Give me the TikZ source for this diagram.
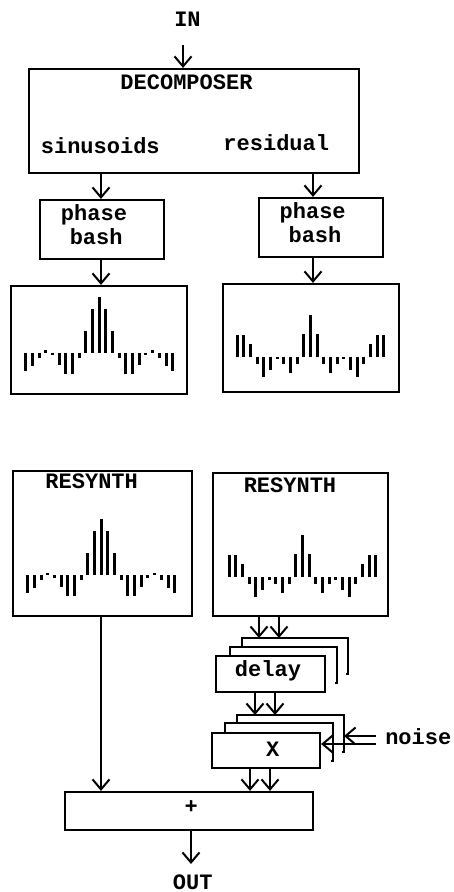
\documentclass[tikz,border=0pt]{standalone}
\usepackage{fontspec}
\setmainfont{Liberation Mono}
\usetikzlibrary{arrows.meta,calc}
\tikzset{
 box/.style={draw, line width=2.2pt, inner sep=0pt, fill=white},
 lbl/.style={inner sep=0pt, anchor=base, font=\fontsize{22}{24}\selectfont\bfseries},
 arr/.style={line width=2pt, -{Straight Barb[length=10pt,width=17pt,line width=2pt]}},
 stackline/.style={line width=2.2pt, line join=miter},
 bar/.style={line width=3pt}
}
\newcommand{\drawspec}[3]{%
 \foreach \h [count=\i from 0] in {#3} {
   \draw[bar] ({#1+\i*6.67}, #2) -- ++(0,{-(\h)});
   \ifnum\i>0 \draw[bar] ({#1-\i*6.67},#2) -- ++(0,{-(\h)}); \fi
 }
}
\begin{document}
\begin{tikzpicture}[x=1pt,y=-1pt]
\useasboundingbox (0,0) rectangle (453,892);
% boxes
\node[box, minimum width=330pt, minimum height=104pt] (dec) at (194,121) {};
\node[box, minimum width=124pt, minimum height=59pt] (pbl) at (102,229.5) {};
\node[box, minimum width=124pt, minimum height=59pt] (pbr) at (321,227.5) {};
\node[box, minimum width=176pt, minimum height=108pt] (spl) at (99,340) {};
\node[box, minimum width=176pt, minimum height=108pt] (spr) at (311,338) {};
\node[box, minimum width=179pt, minimum height=145pt] (rsl) at (102.5,543.5) {};
\node[box, minimum width=175pt, minimum height=143pt] (rsr) at (300.5,544.5) {};
% delay stack
\coordinate (dB) at (242,638);
\coordinate (dBr) at (348,674);
\coordinate (dM) at (230,647);
\coordinate (dMr) at (337,683);
\draw[stackline] (dB |- dM) -- (dB) -- (dB -| dBr) -- (dBr) -- ++(-2.5,0);
\node[box, minimum width=109pt, minimum height=36pt] (df) at (270.5,674) {};
\draw[stackline] (dM |- df.north) -- (dM) -- (dM -| dMr) -- (dMr) -- ++(-2.5,0);
% X stack
\coordinate (xB) at (237,715);
\coordinate (xBr) at (344,752);
\coordinate (xM) at (225,723);
\coordinate (xMr) at (333,761);
\draw[stackline] (xB |- xM) -- (xB) -- (xB -| xBr) -- (xBr) -- ++(-2.5,0);
\node[box, minimum width=108pt, minimum height=35pt] (xf) at (266,750.5) {};
\draw[stackline] (xM |- xf.north) -- (xM) -- (xM -| xMr) -- (xMr) -- ++(-2.5,0);
\node[box, minimum width=248pt, minimum height=38pt] (plus) at (189,811) {};
% labels
\node[lbl] (in) at (187.5,26.7) {IN};
\node[lbl] (decl) at (186.5,89.3) {DECOMPOSER};
\node[lbl] (sin) at (100.3,153.3) {sinusoids};
\node[lbl] (res) at (276.3,150) {residual};
\node[lbl] (ph1) at (94,220) {phase};
\node[lbl] (ba1) at (96.2,244.3) {bash};
\node[lbl] (ph2) at (312.7,218.3) {phase};
\node[lbl] (ba2) at (315,242.7) {bash};
\node[lbl] (rs1) at (91.7,488.3) {RESYNTH};
\node[lbl] (rs2) at (290,492.7) {RESYNTH};
\node[lbl] (dl) at (268,676.7) {delay};
\node[lbl] (xl) at (272.7,756.7) {X};
\node[lbl] (nz) at (418.3,744) {noise};
\node[lbl, anchor=center] (pl) at (191.3,806.7) {+};
\node[lbl] (out) at (192.8,889) {OUT};
% spectra
\drawspec{99.3}{352.7}{56,44,22,-5,-21,-21,-12,-2.5,2.5,-5,-13,-18}
\drawspec{101.3}{575}{56,44,22,-5,-21,-21,-12,-2.5,2.5,-5,-13,-18}
\drawspec{310.5}{356.7}{42,23,-7,-16,-7,-2.5,-13,-20,-7,13,22,22}
\drawspec{302.5}{577}{42,23,-7,-16,-7,-2.5,-13,-20,-7,13,22,22}
% connectors
\draw[arr] ([xshift=-4.5pt,yshift=-18pt]in.south) -- ([xshift=-4.5pt]in.south |- dec.north);
\draw[arr] ([xshift=-1pt]pbl.north |- dec.south) -- ([xshift=-1pt]pbl.north);
\draw[arr] ([xshift=-8pt]pbr.north |- dec.south) -- ([xshift=-8pt]pbr.north);
\draw[arr] ([xshift=-1pt]pbl.south) -- ([xshift=-1pt]pbl.south |- spl.north);
\draw[arr] ([xshift=-8pt]pbr.south) -- ([xshift=-8pt]pbr.south |- spr.north);
\draw[arr] ([xshift=-41.5pt]rsr.south) -- ([xshift=-41.5pt]rsr.south |- dB);
\draw[arr] ([xshift=-21.5pt]rsr.south) -- ([xshift=-21.5pt]rsr.south |- dB);
\draw[arr] ([xshift=-15.5pt]df.south) -- ([xshift=-15.5pt]df.south |- xB);
\draw[arr] ([xshift=4.5pt]df.south) -- ([xshift=4.5pt]df.south |- xB);
\draw[arr] ([xshift=-16pt]xf.south) -- ([xshift=-16pt]xf.south |- plus.north);
\draw[arr] ([xshift=4pt]xf.south) -- ([xshift=4pt]xf.south |- plus.north);
\draw[arr] ([xshift=-1.5pt]rsl.south) -- ([xshift=-1.5pt]rsl.south |- plus.north);
\coordinate (n1) at (376,736);
\coordinate (n2) at (376,744);
\draw[arr] (n1) -- (n1 -| xBr);
\draw[arr] (n2) -- (n2 -| xf.east);
\coordinate (oe) at (191,864);
\draw[arr] (plus.south -| oe) -- (oe);
\end{tikzpicture}
\end{document}
